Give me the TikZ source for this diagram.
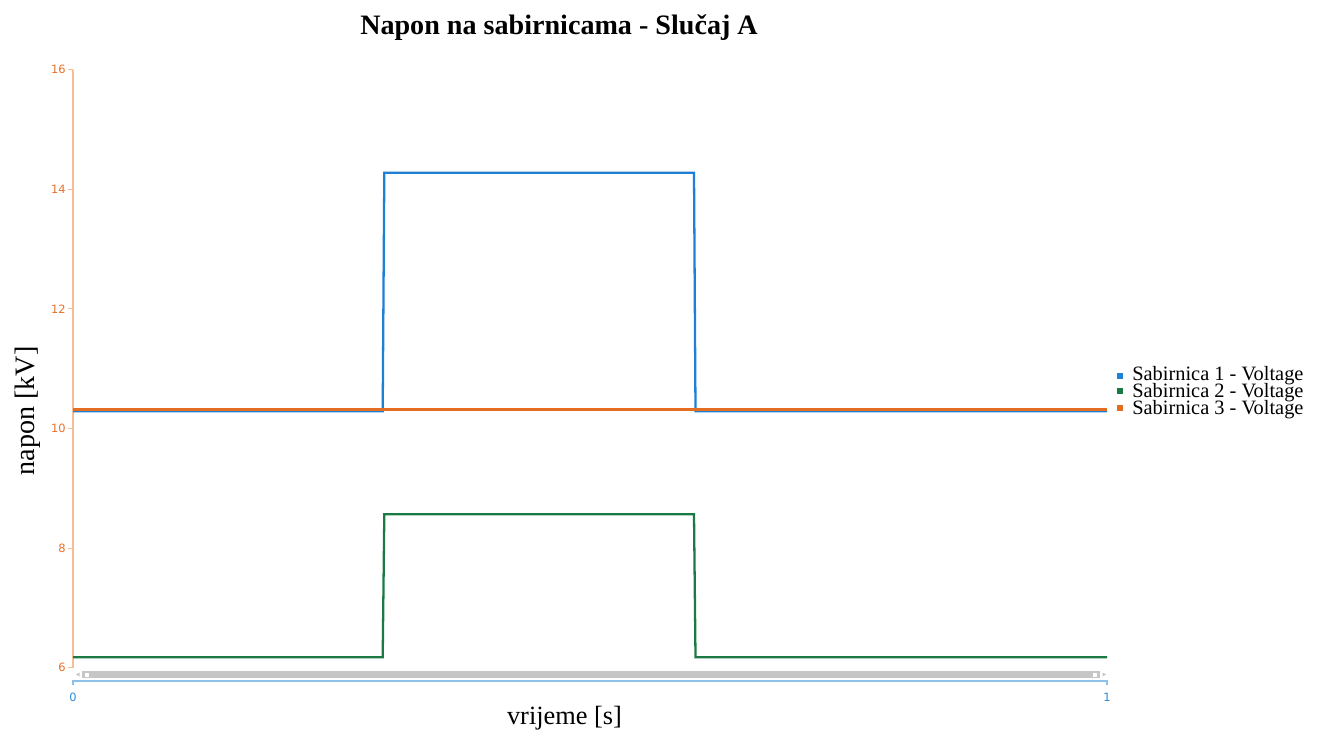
\documentclass[tikz,border=0pt]{standalone}
\usepackage{fontspec}
\setmainfont{Liberation Serif}
\newfontfamily\tickfont{DejaVu Sans}
\usepackage{xcolor}
\usepackage{tikz}

\definecolor{serblue}{HTML}{1F7FD4}
\definecolor{sergreen}{HTML}{1B7A43}
\definecolor{serorange}{HTML}{E46D22}
\definecolor{yaxis}{HTML}{F6BE98}
\definecolor{ylab}{HTML}{E8702A}
\definecolor{xaxis}{HTML}{8EC1EA}
\definecolor{xlab}{HTML}{2A88D6}
\definecolor{scroll}{HTML}{C6C6C6}

\tikzset{
	series/.style={line width=1.3pt, line join=miter},
	ytick/.style={font=\tickfont\fontsize{6.5}{7.5}\selectfont, text=ylab, anchor=east, inner sep=0pt},
	xtick/.style={font=\tickfont\fontsize{6.5}{7.5}\selectfont, text=xlab, anchor=center, inner sep=0pt},
	legtext/.style={font=\fontsize{11.6}{12}\selectfont, anchor=base west, inner sep=0pt, text depth=0pt},
}

\begin{document}
\begin{tikzpicture}[x=0.02cm, y=-0.02cm]
	\useasboundingbox (0,0) rectangle (1325,736);
	
	% axes
	\draw[draw=yaxis, line width=0.6pt] (73,69.7) -- (73,667.7);
	\foreach \v/\yy in {6/667.7, 8/548.1, 10/428.5, 12/308.9, 14/189.3, 16/69.7} {
		\draw[draw=yaxis, line width=0.6pt] (68,\yy) -- (73,\yy);
		\node[ytick] (tick\v) at (66,\yy) {\v};
	}
	\draw[draw=xaxis, line width=0.6pt] (73,685) -- (73,681) -- (1107,681) -- (1107,685);
	\node[xtick] (xzero) at (73,697) {0};
	\node[xtick] (xone) at (1107,697) {1};
	
	% scrollbar
	\fill[scroll] (82,671) rectangle (1100,678);
	\fill[white] (85,672.5) rectangle (89,676.5);
	\fill[white] (1093,672.5) rectangle (1097,676.5);
	\fill[scroll] (76,674.5) -- (79.5,672.5) -- (79.5,676.5) -- cycle;
	\fill[scroll] (1106,674.5) -- (1102.5,672.5) -- (1102.5,676.5) -- cycle;
	
	% series
	\draw[series, draw=serblue] (73,411.3) -- (382.7,411.3) -- (384.3,172.7) -- (694,172.7) -- (695.5,411.3) -- (1107,411.3);
	\draw[series, draw=sergreen] (73,657.2) -- (382.7,657.2) -- (384.3,514.3) -- (694,514.3) -- (695.5,657.2) -- (1107,657.2);
	\draw[series, draw=serorange] (73,409.5) -- (1107,409.5);
	
	% legend
	\fill[serblue] (1117,373) rectangle (1123,379);
	\fill[sergreen] (1117,388) rectangle (1123,394);
	\fill[serorange] (1117,405) rectangle (1123,411);
	\node[legtext] (leg1) at (1132,380) {Sabirnica 1 - Voltage};
	\node[legtext] (leg2) at (1132,397.5) {Sabirnica 2 - Voltage};
	\node[legtext] (leg3) at (1132,415) {Sabirnica 3 - Voltage};
	
	% labels
	\node[font=\bfseries\fontsize{16}{18}\selectfont, anchor=base, inner sep=0pt] (title) at (559,35) {Napon na sabirnicama - Slučaj A};
	\node[font=\fontsize{16}{18}\selectfont, rotate=90, inner sep=0pt] (ylabel) at (28,411) {napon [kV]};
	\node[font=\fontsize{15}{17}\selectfont, inner sep=0pt] (xlabel) at (564.5,718) {vrijeme [s]};
\end{tikzpicture}
\end{document}
